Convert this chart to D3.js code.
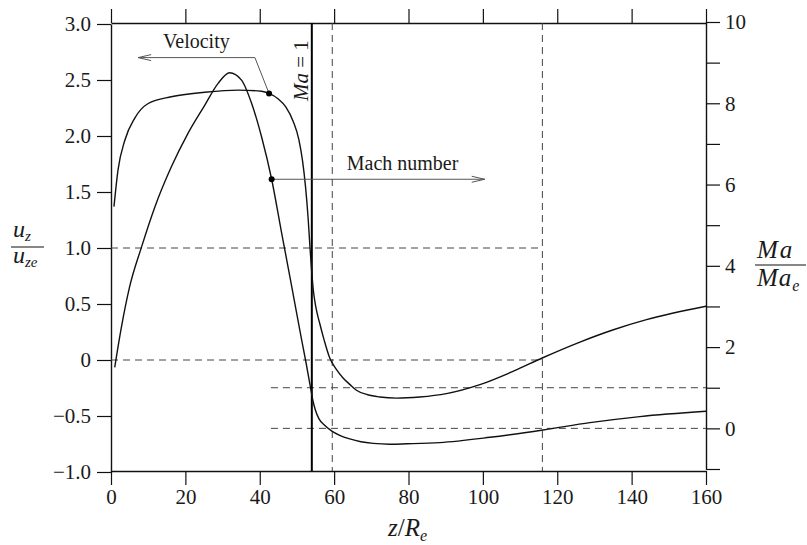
<!DOCTYPE html>
<html lang="en">
<head>
<meta charset="UTF-8">
<title>Velocity and Mach number</title>
<style>
  body { margin: 0; background: #fff; }
  svg { display: block; }
  text { font-family: "Liberation Serif", "DejaVu Serif", serif; fill: #1a1a1a; }
</style>
</head>
<body>
<svg width="807" height="545" id="svg"></svg>
<script src="https://d3js.org/d3.v7.min.js"></script>
<script>
// axial position z/Re and the two curves
const velocityZ = [0.8, 1.9, 3.7, 6.4, 10.0, 16.2, 25.2, 34.2, 40.5, 42.5, 45.0, 47.0, 49.0, 50.5, 51.5, 52.3, 53.0, 53.5, 53.9, 54.4, 55.1, 56.1, 57.3, 58.8, 60.5, 62.4, 64.3, 66.0, 69.0, 72.3, 76.8, 83.0, 90.2, 99.2, 108.2, 116.1, 126.1, 135.1, 144.0, 160]
const velocityU = [1.37, 1.70, 1.96, 2.16, 2.29, 2.35, 2.39, 2.41, 2.40, 2.38, 2.33, 2.26, 2.13, 1.97, 1.78, 1.55, 1.27, 1.01, 0.82, 0.625, 0.47, 0.33, 0.18, 0.02, -0.08, -0.16, -0.22, -0.27, -0.31, -0.33, -0.34, -0.33, -0.30, -0.22, -0.10, 0.02, 0.16, 0.27, 0.36, 0.48]

const machZ = [1.0, 2.8, 5.0, 8.2, 11.8, 16.2, 20.7, 25.2, 28.8, 31.9, 35.1, 37.8, 40.5, 43.2, 45.8, 48.5, 51.2, 52.5, 53.7, 54.3, 55.0, 55.9, 57.3, 59.3, 61.5, 64.2, 67.2, 70.5, 75.0, 79.5, 88.4, 101.9, 116.2, 128.8, 142.2, 160]
const machM = [1.50, 2.49, 3.48, 4.46, 5.45, 6.43, 7.26, 7.95, 8.49, 8.75, 8.57, 8.00, 7.17, 6.13, 4.85, 3.54, 2.21, 1.59, 0.98, 0.68, 0.44, 0.24, 0.09, -0.06, -0.17, -0.26, -0.33, -0.37, -0.39, -0.38, -0.35, -0.22, -0.04, 0.14, 0.29, 0.42]

// tick values
const zTicks = [0, 20, 40, 60, 80, 100, 120, 140, 160]
const uTicks = [-1, -0.5, 0, 0.5, 1, 1.5, 2, 2.5, 3]
const maTicks = [-1, 0, 1, 2, 3, 4, 5, 6, 7, 8, 9, 10]

// reference lines
const maOneZ = 54
const dashedZ = [59.5, 116]
const dashedU = [1, 0]       // drawn from z = 0 to 116
const dashedMa = [1, 0]      // drawn from z = 43 to 160

// annotation anchors (data coordinates)
const velDot = { z: 42.5, u: 2.38 }
const machDot = { z: 43.2, m: 6.13 }

const svg = d3.select("svg#svg")

const x = d3.scaleLinear().domain([0, 160]).range([111, 706])
const yL = d3.scaleLinear().domain([-1, 3]).range([472, 24])
const yR = d3.scaleLinear().domain([-1, 10]).range([469, 22])

const fmtU = d => d === 0 ? "0" : (d < 0 ? "\u2212" : "") + Math.abs(d).toFixed(1)
const fmtM = d => (d >= 0 && d % 2 === 0) ? d : ""

function styleAxis(g) {
    g.selectAll("path.domain").attr("stroke", "#111").attr("stroke-width", 1.4)
    g.selectAll(".tick line").attr("stroke", "#111").attr("stroke-width", 1.2)
    g.selectAll("text").attr("font-family", "Liberation Serif").attr("font-size", 21).attr("fill", "#1a1a1a")
}

svg.append("g").attr("transform", `translate(0,471)`)
    .call(d3.axisBottom(x).tickValues(zTicks).tickSize(14).tickSizeOuter(0).tickPadding(4))
    .call(styleAxis)
svg.append("g").attr("transform", `translate(0,23)`)
    .call(d3.axisTop(x).tickValues(zTicks).tickSize(14).tickSizeOuter(0).tickFormat(""))
    .call(styleAxis)
svg.append("g").attr("transform", `translate(${x(0)},0)`)
    .call(d3.axisLeft(yL).tickValues(uTicks).tickSize(14).tickSizeOuter(0).tickPadding(6).tickFormat(fmtU))
    .call(styleAxis)
svg.append("g").attr("transform", `translate(${x(160)},0)`)
    .call(d3.axisRight(yR).tickValues(maTicks).tickSize(14).tickSizeOuter(0).tickPadding(5).tickFormat(fmtM))
    .call(styleAxis)

// dashed guide lines
const dash = svg.append("g").attr("stroke", "#444").attr("stroke-width", 1).attr("stroke-dasharray", "7,5").attr("fill", "none")
dashedZ.forEach(z => dash.append("line").attr("x1", x(z)).attr("x2", x(z)).attr("y1", 23).attr("y2", 471))
dashedU.forEach(u => dash.append("line").attr("x1", x(0)).attr("x2", x(116)).attr("y1", yL(u)).attr("y2", yL(u)))
dashedMa.forEach(m => dash.append("line").attr("x1", x(43)).attr("x2", x(160)).attr("y1", yR(m)).attr("y2", yR(m)))

// Ma = 1 line
svg.append("line").attr("x1", x(maOneZ)).attr("x2", x(maOneZ)).attr("y1", 23).attr("y2", 471)
    .attr("stroke", "#000").attr("stroke-width", 2)

svg.append("text").attr("transform", `translate(${x(maOneZ) - 4},101) rotate(-90)`).attr("font-size", 21)
    .html('<tspan font-style="italic">Ma</tspan> = 1')

// curves
const velLine = d3.line().x((d, i) => x(velocityZ[i])).y(d => yL(d)).curve(d3.curveMonotoneX)
const machLine = d3.line().x((d, i) => x(machZ[i])).y(d => yR(d)).curve(d3.curveMonotoneX)

svg.append("path").datum(velocityU).attr("fill", "none").attr("stroke", "#111").attr("stroke-width", 1.4).attr("d", velLine)
svg.append("path").datum(machM).attr("fill", "none").attr("stroke", "#111").attr("stroke-width", 1.4).attr("d", machLine)

// annotations
const ann = svg.append("g").attr("stroke", "#555").attr("stroke-width", 1).attr("fill", "none")
const vy = yL(2.70)
ann.append("polyline").attr("points", [[x(velDot.z), yL(velDot.u)], [x(38.7), vy], [x(7.3), vy]].join(" "))
ann.append("polyline").attr("points", [[x(7.3) + 13, vy - 3], [x(7.3), vy], [x(7.3) + 13, vy + 3]].join(" "))
const my = yR(machDot.m)
ann.append("line").attr("x1", x(machDot.z)).attr("x2", x(100.5)).attr("y1", my).attr("y2", my)
ann.append("polyline").attr("points", [[x(100.5) - 13, my - 3], [x(100.5), my], [x(100.5) - 13, my + 3]].join(" "))

svg.append("circle").attr("cx", x(velDot.z)).attr("cy", yL(velDot.u)).attr("r", 3).attr("fill", "#000")
svg.append("circle").attr("cx", x(machDot.z)).attr("cy", yR(machDot.m)).attr("r", 3).attr("fill", "#000")

svg.append("text").attr("x", x(14)).attr("y", yL(2.79)).attr("font-size", 20).text("Velocity")
svg.append("text").attr("x", x(63.4)).attr("y", yR(6.35)).attr("font-size", 20).text("Mach number")

// axis titles
const lt = svg.append("g")
lt.append("text").attr("x", 13).attr("y", 237).attr("font-size", 24).attr("font-style", "italic")
    .html('u<tspan font-size="15" dy="4">z</tspan>')
lt.append("line").attr("x1", 11).attr("x2", 44).attr("y1", 247).attr("y2", 247).attr("stroke", "#111").attr("stroke-width", 1.2)
lt.append("text").attr("x", 13).attr("y", 263).attr("font-size", 24).attr("font-style", "italic")
    .html('u<tspan font-size="15" dy="4">ze</tspan>')

const rt = svg.append("g")
rt.append("text").attr("x", 757).attr("y", 258).attr("font-size", 25).attr("font-style", "italic")
    .attr("letter-spacing", 2).text("Ma")
rt.append("line").attr("x1", 755).attr("x2", 806).attr("y1", 265).attr("y2", 265).attr("stroke", "#111").attr("stroke-width", 1.2)
rt.append("text").attr("x", 757).attr("y", 286).attr("font-size", 25).attr("font-style", "italic")
    .attr("letter-spacing", 1).html('Ma<tspan font-size="16" dy="5">e</tspan>')

svg.append("text").attr("x", 388).attr("y", 536).attr("font-size", 25)
    .html('<tspan font-style="italic">z</tspan>/<tspan font-style="italic">R</tspan><tspan font-style="italic" font-size="16" dy="5">e</tspan>')
</script>
</body>
</html>
